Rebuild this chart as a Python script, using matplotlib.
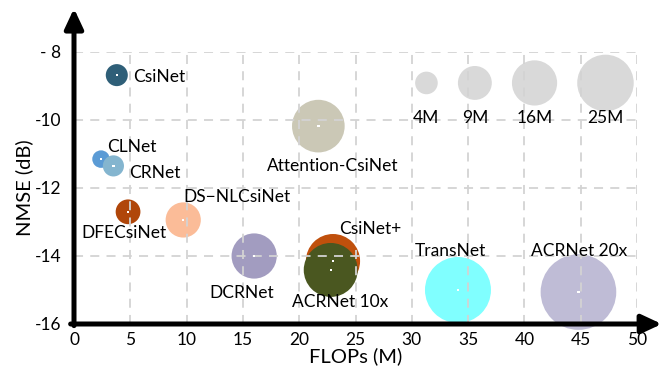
import matplotlib
matplotlib.use("Agg")
import matplotlib.pyplot as plt

plt.rcParams['font.family'] = ['Lato', 'DejaVu Sans']

# Model comparison: complexity (FLOPs) vs accuracy (NMSE); bubble area ~ FLOPs
models = ["CsiNet", "CLNet", "CRNet", "Attention-CsiNet", "DFECsiNet",
          "DS\u2212NLCsiNet", "DCRNet", "CsiNet+", "ACRNet 10x",
          "TransNet", "ACRNet 20x"]
flops = [3.8, 2.4, 3.5, 21.7, 4.8, 9.7, 16.0, 23.0, 22.8, 34.1, 44.8]
nmse = [-8.68, -11.15, -11.35, -10.18, -12.70, -12.94, -14.00, -14.15,
        -14.41, -15.00, -15.06]
colors = ["#2F5F78", "#5B9BD5", "#84B5CF", "#CBC8B6", "#B0460A",
          "#FBBC98", "#A29CC0", "#C0500C", "#4A5720", "#80FFFF", "#BFBCD6"]

# Size key bubbles
key_sizes = [4, 9, 16, 25]
key_labels = ["4M", "9M", "16M", "25M"]
key_x = [31.3, 35.6, 40.9, 47.2]
key_y = -8.91

xticks = [0, 5, 10, 15, 20, 25, 30, 35, 40, 45, 50]
yticks = [-16, -14, -12, -10, -8]
ytick_labels = ["-16", "-14", "-12", "-10", "- 8"]

SCALE = 66.2  # marker area (pt^2) per MFLOP

fig = plt.figure(figsize=(6.61, 3.72), dpi=100)
W, H = 661, 372
ax = fig.add_axes([74 / W, (H - 324) / H, (637 - 74) / W, (324 - 52) / H])
ax.set_xlim(0, 50)
ax.set_ylim(-16, -8)

for s in ax.spines.values():
    s.set_visible(False)

ax.scatter(flops, nmse, s=[SCALE * f for f in flops], c=colors,
           edgecolors='none', zorder=2, clip_on=False)
ax.scatter(flops, nmse, s=3, c='white', marker='s', edgecolors='none',
           zorder=4, clip_on=False)
ax.scatter(key_x, [key_y] * len(key_x), s=[SCALE * k for k in key_sizes],
           c="#D9D9D9", edgecolors='none', zorder=2)

# dashed grid above the bubbles
for xv in xticks[1:]:
    ax.plot([xv, xv], [-16, -8], color="#D3D3D3", lw=1.3,
            dashes=(5, 4), zorder=3)
for yv in yticks[1:]:
    ax.plot([0, 50], [yv, yv], color="#D3D3D3", lw=1.3,
            dashes=(5, 4), zorder=3)

# axis arrows
arrow = dict(arrowstyle='-|>,head_length=0.6,head_width=0.28',
             lw=3.6, color='black', shrinkA=0, shrinkB=0,
             mutation_scale=20)
ax.annotate('', xy=(0, 1.16), xytext=(0, -0.006),
            xycoords='axes fraction', textcoords='axes fraction',
            arrowprops=arrow, annotation_clip=False, zorder=6)
ax.annotate('', xy=(1.044, 0), xytext=(-0.006, 0),
            xycoords='axes fraction', textcoords='axes fraction',
            arrowprops=arrow, annotation_clip=False, zorder=6)

ax.set_xticks(xticks)
ax.set_yticks(yticks)
ax.set_yticklabels(ytick_labels)
ax.tick_params(axis='both', length=0, labelsize=12.5)
ax.tick_params(axis='x', pad=6)
ax.tick_params(axis='y', pad=9)
ax.set_xlabel("FLOPs (M)", fontsize=14.5, labelpad=-1)
ax.set_ylabel("NMSE (dB)", fontsize=14.5, labelpad=1)

# model labels
label_pos = {
    "CsiNet": (5.24, -8.74, 'left'),
    "CLNet": (2.93, -10.79, 'left'),
    "CRNet": (4.88, -11.56, 'left'),
    "Attention-CsiNet": (23.0, -11.35, 'center'),
    "DFECsiNet": (4.44, -13.32, 'center'),
    "DS\u2212NLCsiNet": (14.5, -12.26, 'center'),
    "DCRNet": (14.9, -15.09, 'center'),
    "CsiNet+": (26.3, -13.2, 'center'),
    "ACRNet 10x": (23.6, -15.35, 'center'),
    "TransNet": (33.4, -13.85, 'center'),
    "ACRNet 20x": (44.9, -13.85, 'center'),
}
for name in models:
    x, y, ha = label_pos[name]
    ax.text(x, y, name, ha=ha, va='center', fontsize=12.5, zorder=5)

for kx, kl in zip(key_x, key_labels):
    ax.text(kx, -9.94, kl, ha='center', va='center', fontsize=12.5, zorder=5)

fig.savefig("out.png", dpi=100)
